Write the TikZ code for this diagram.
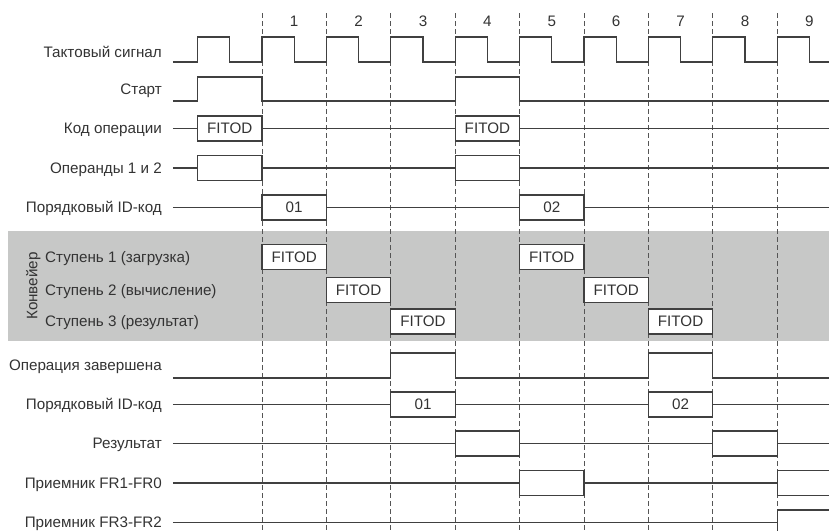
\documentclass[tikz,border=0pt]{standalone}
\usepackage{fontspec}
\setmainfont{Liberation Sans}
\definecolor{ink}{HTML}{404040}
\definecolor{txt}{HTML}{333333}
\definecolor{band}{HTML}{C7C8C7}
\definecolor{dsh}{HTML}{555555}
\newcommand\myfs{\fontsize{15.2}{18}\selectfont}
\begin{document}
\begin{tikzpicture}[x=64.4pt, y=-1pt,
  sig/.style={draw=ink, line width=1.1pt, line join=miter},
  busbox/.style={draw=ink, line width=1.1pt, fill=white, minimum width=64.4pt,
    minimum height=25pt, inner sep=0pt, outer sep=0pt, text=txt, font=\myfs},
  lbl/.style={anchor=base east, text=txt, inner sep=0pt, font=\myfs},
  lblw/.style={anchor=base west, text=txt, inner sep=0pt, font=\myfs},
  num/.style={anchor=base, text=txt, inner sep=0pt, font=\myfs},
  grid/.style={draw=dsh, line width=0.9pt, dash pattern=on 5pt off 3pt}]
\useasboundingbox (-3.0683,0) rectangle (9.8043,530);
\clip (-3.0683,0) rectangle (9.8043,530);
% pipeline band
\fill[band] (-2.944,231) rectangle (9.9,341);
\node[rotate=90, anchor=base, text=txt, inner sep=0pt, font=\myfs] (conv) at (-2.486,286) {Конвейер};
% clock grid
\foreach \k in {1,...,9} {
  \draw[grid] (\k,13) -- (\k,530);
  \node[num] (n\k) at (\k+0.5,26) {\k};
}
% labels
\node[lbl] (l1) at (-0.5528,57.8) {Тактовый сигнал};
\node[lbl] (l2) at (-0.5528,94.2) {Старт};
\node[lbl] (l3) at (-0.5528,133.9) {Код операции};
\node[lbl] (l4) at (-0.5528,173.4) {Операнды 1 и 2};
\node[lbl] (l5) at (-0.5528,212.9) {Порядковый ID-код};
\node[lblw] (s1) at (-2.370,262.4) {Ступень 1 (загрузка)};
\node[lblw] (s2) at (-2.370,295.4) {Ступень 2 (вычисление)};
\node[lblw] (s3) at (-2.370,326.9) {Ступень 3 (результат)};
\node[lbl] (l6) at (-0.5528,370.5) {Операция завершена};
\node[lbl] (l7) at (-0.5528,409.9) {Порядковый ID-код};
\node[lbl] (l8) at (-0.5528,448.9) {Результат};
\node[lbl] (l9) at (-0.5528,488.4) {Приемник FR1-FR0};
\node[lbl] (l10) at (-0.5528,527.9) {Приемник FR3-FR2};
% clock
\draw[sig] (-0.382,62) \foreach \k in {0,...,9} { -- (\k,62) -- (\k,37) -- (\k+0.5,37) -- (\k+0.5,62) } -- (9.9,62);
% start
\draw[sig] (-0.382,101) -- (0,101) -- (0,77) -- (1,77) -- (1,101) -- (4,101) -- (4,77) -- (5,77) -- (5,101) -- (9.9,101);
% opcode
\draw[sig] (-0.382,128.5) -- (9.9,128.5);
\node[busbox] (op1) at (0.5,128.5) {FITOD};
\node[busbox] (op2) at (4.5,128.5) {FITOD};
% operands
\draw[sig] (-0.382,168) -- (9.9,168);
\node[busbox] (od1) at (0.5,168) {};
\node[busbox] (od2) at (4.5,168) {};
% id
\draw[sig] (-0.382,207.5) -- (9.9,207.5);
\node[busbox] (id1) at (1.5,207.5) {01};
\node[busbox] (id2) at (5.5,207.5) {02};
% pipeline stages
\node[busbox] (st1a) at (1.5,257) {FITOD};
\node[busbox] (st1b) at (5.5,257) {FITOD};
\node[busbox] (st2a) at (2.5,290) {FITOD};
\node[busbox] (st2b) at (6.5,290) {FITOD};
\node[busbox] (st3a) at (3.5,321.5) {FITOD};
\node[busbox] (st3b) at (7.5,321.5) {FITOD};
% done
\draw[sig] (-0.382,378) -- (3,378) -- (3,353) -- (4,353) -- (4,378) -- (7,378) -- (7,353) -- (8,353) -- (8,378) -- (9.9,378);
% id out
\draw[sig] (-0.382,404.5) -- (9.9,404.5);
\node[busbox] (io1) at (3.5,404.5) {01};
\node[busbox] (io2) at (7.5,404.5) {02};
% result
\draw[sig] (-0.382,443.5) -- (9.9,443.5);
\node[busbox] (rs1) at (4.5,443.5) {};
\node[busbox] (rs2) at (8.5,443.5) {};
% FR1-FR0
\draw[sig] (-0.382,483) -- (9,483);
\node[busbox] (fa1) at (5.5,483) {};
\draw[sig] (9.9,470.5) -- (9,470.5) -- (9,495.5) -- (9.9,495.5);
% FR3-FR2
\draw[sig] (-0.382,522.5) -- (9,522.5);
\draw[sig] (9.9,510) -- (9,510) -- (9,540);
\end{tikzpicture}
\end{document}
